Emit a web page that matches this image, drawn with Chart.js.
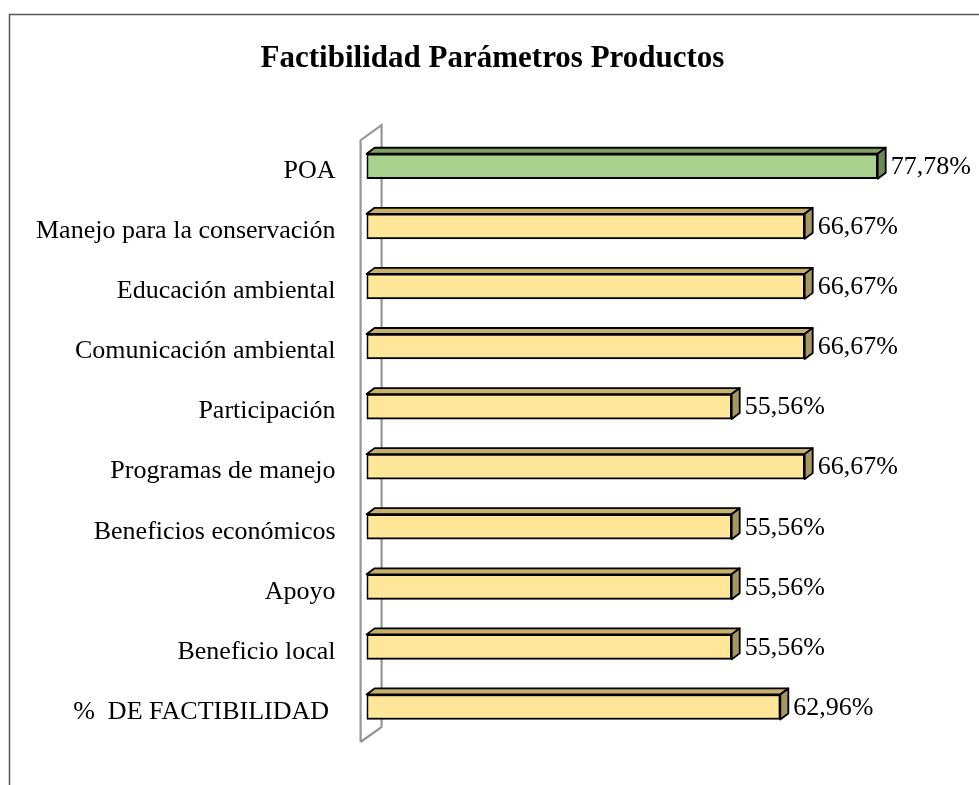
<!DOCTYPE html>
<html lang="es">
<head>
<meta charset="UTF-8">
<title>Factibilidad Parámetros Productos</title>
<style>
  body { margin: 0; background: #ffffff; }
  #wrap { width: 979px; height: 785px; }
</style>
</head>
<body>
<div id="wrap"><canvas id="chart"></canvas></div>
<script src="https://cdn.jsdelivr.net/npm/chart.js"></script>
<script>
// data
const categories = [
  "POA",
  "Manejo para la conservación",
  "Educación ambiental",
  "Comunicación ambiental",
  "Participación",
  "Programas de manejo",
  "Beneficios económicos",
  "Apoyo",
  "Beneficio local",
  "%  DE FACTIBILIDAD "
];
const values = [77.78, 66.67, 66.67, 66.67, 55.56, 66.67, 55.56, 55.56, 55.56, 62.96];
const valueLabels = ["77,78%", "66,67%", "66,67%", "66,67%", "55,56%", "66,67%", "55,56%", "55,56%", "55,56%", "62,96%"];

// face colours [front, top, side]
const yellow = ["#FFE699", "#C6B06A", "#A69664"];
const green = ["#A9D18E", "#7E9F68", "#6C8A58"];
const barColors = categories.map((c, i) => i === 0 ? green : yellow);

const DX = 8, DY = 6;      // bar depth
const WX = 21, WY = 15;    // wall depth

// frame + back wall
const framePlugin = {
  id: "frame",
  beforeDraw(chart) {
    const ctx = chart.ctx;
    const a = chart.chartArea;
    ctx.save();
    ctx.strokeStyle = "#595959";
    ctx.lineWidth = 1.5;
    ctx.beginPath();
    ctx.moveTo(979, 14.5);
    ctx.lineTo(9.5, 14.5);
    ctx.lineTo(9.5, 785);
    ctx.stroke();

    const fx = a.left - 6, ft = a.top + 4, fb = a.bottom + 5;
    ctx.strokeStyle = "#969696";
    ctx.lineWidth = 2.2;
    ctx.beginPath();
    ctx.moveTo(fx, fb);
    ctx.lineTo(fx, ft);
    ctx.lineTo(fx + WX, ft - WY);
    ctx.lineTo(fx + WX, fb - WY);
    ctx.lineTo(fx, fb);
    ctx.stroke();
    ctx.restore();
  }
};

// top and side faces, value labels
const bar3dPlugin = {
  id: "bar3d",
  afterDatasetsDraw(chart) {
    const ctx = chart.ctx;
    const meta = chart.getDatasetMeta(0);
    ctx.save();
    ctx.lineWidth = 1.8;
    ctx.strokeStyle = "#000000";
    ctx.lineJoin = "round";
    meta.data.forEach((bar, i) => {
      const x0 = bar.base, x1 = bar.x;
      const t = bar.y - bar.height / 2, b = bar.y + bar.height / 2;
      // top face
      ctx.fillStyle = barColors[i][1];
      ctx.beginPath();
      ctx.moveTo(x0, t);
      ctx.lineTo(x0 + DX, t - DY);
      ctx.lineTo(x1 + DX, t - DY);
      ctx.lineTo(x1, t);
      ctx.closePath();
      ctx.fill();
      ctx.stroke();
      // side face
      ctx.fillStyle = barColors[i][2];
      ctx.beginPath();
      ctx.moveTo(x1, t);
      ctx.lineTo(x1 + DX, t - DY);
      ctx.lineTo(x1 + DX, b - DY);
      ctx.lineTo(x1, b);
      ctx.closePath();
      ctx.fill();
      ctx.stroke();

      ctx.fillStyle = "#000000";
      ctx.font = "26px 'Liberation Serif', 'Times New Roman', serif";
      ctx.textAlign = "left";
      ctx.textBaseline = "middle";
      ctx.fillText(valueLabels[i], x1 + DX + 5, bar.y + 1);
    });
    ctx.restore();
  }
};

new Chart(document.getElementById("chart"), {
  type: "bar",
  data: {
    labels: categories,
    datasets: [{
      data: values,
      backgroundColor: barColors.map(c => c[0]),
      borderColor: "#000000",
      borderWidth: 2,
      borderSkipped: false,
      barThickness: 25
    }]
  },
  options: {
    indexAxis: "y",
    responsive: true,
    maintainAspectRatio: false,
    animation: false,
    layout: { padding: { left: 27, right: 21, top: 14, bottom: 48 } },
    plugins: {
      legend: { display: false },
      tooltip: { enabled: false },
      title: {
        display: true,
        text: "Factibilidad Parámetros Productos",
        color: "#000000",
        font: { family: "'Liberation Serif', 'Times New Roman', serif", size: 31, weight: "bold" },
        padding: { top: 26, bottom: 59 }
      }
    },
    scales: {
      x: { display: false, min: 0, max: 90 },
      y: {
        grid: { display: false, drawTicks: false },
        border: { display: false },
        afterFit(scale) { scale.width -= 22; },
        ticks: {
          color: "#000000",
          padding: 31,
          labelOffset: 5,
          font: { family: "'Liberation Serif', 'Times New Roman', serif", size: 26 }
        }
      }
    }
  },
  plugins: [framePlugin, bar3dPlugin]
});
</script>
</body>
</html>
